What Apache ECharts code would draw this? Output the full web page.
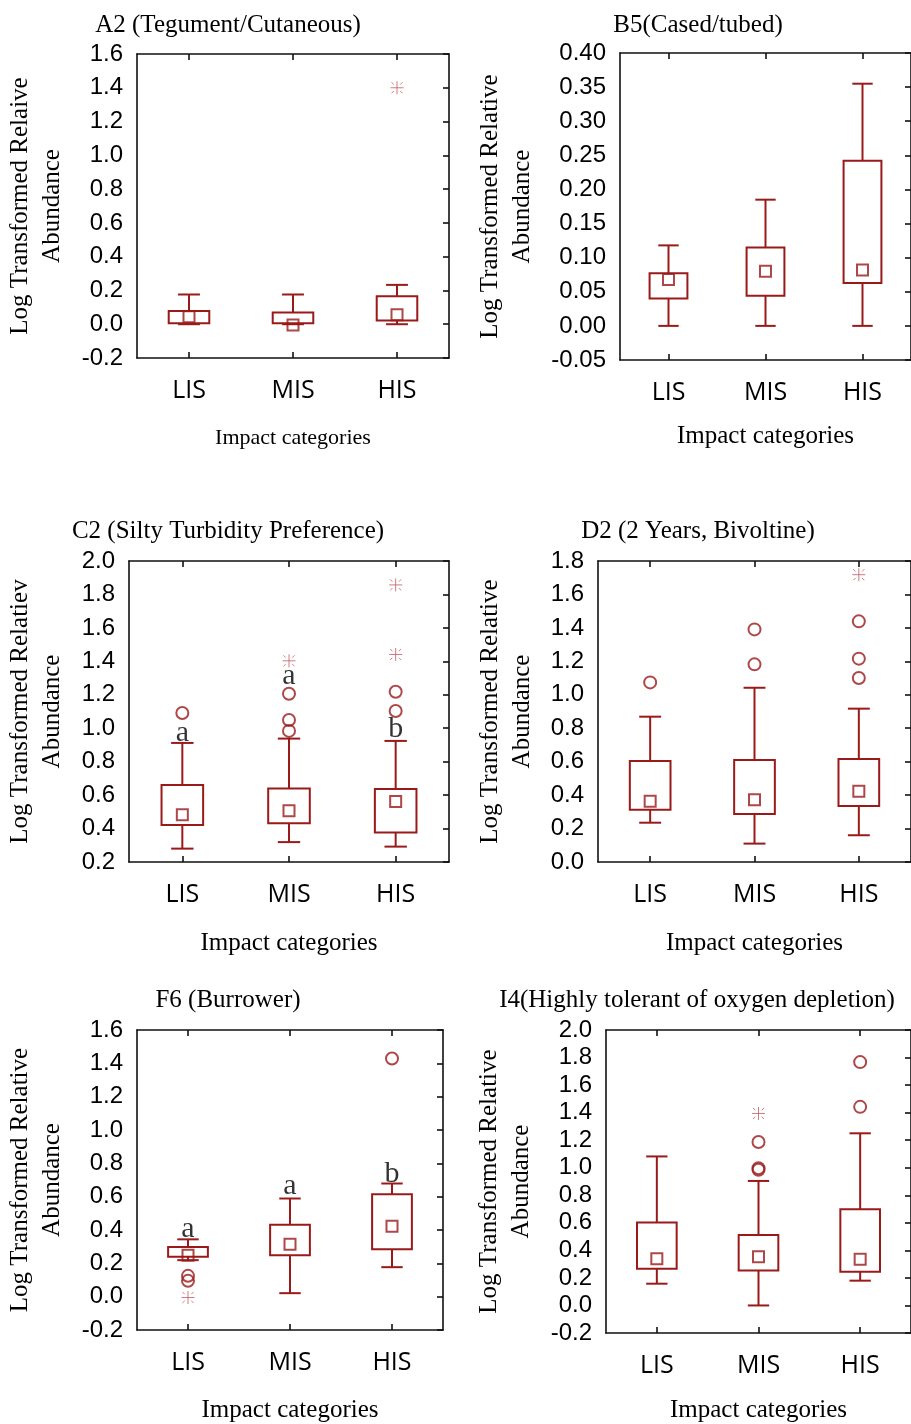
<!DOCTYPE html>
<html>
<head>
<meta charset="utf-8">
<script src="https://cdn.jsdelivr.net/npm/echarts@6/dist/echarts.min.js"></script>
<style>
html,body{margin:0;padding:0;background:#fff;}
#chart{width:911px;height:1424px;}
</style>
</head>
<body>
<div id="chart"></div>
<script>
// ---------- data ----------
const CATEGORIES = ['LIS', 'MIS', 'HIS'];
// stats per category: [whisker low, Q1, median, Q3, whisker high]
const a2Stats = [[0.0, 0.006, 0.044, 0.079, 0.176], [0.0, 0.006, -0.005, 0.069, 0.176], [0.0, 0.022, 0.056, 0.166, 0.233]];
const a2Outliers = [];
const a2Extremes = [[2, 1.40]];
const a2Letters = [];

const b5Stats = [[0.0, 0.040, 0.068, 0.077, 0.118], [0.0, 0.044, 0.080, 0.115, 0.185], [0.0, 0.063, 0.082, 0.242, 0.355]];
const b5Outliers = [];
const b5Extremes = [];
const b5Letters = [];

const c2Stats = [[0.280, 0.421, 0.483, 0.660, 0.912], [0.319, 0.431, 0.506, 0.640, 0.938], [0.292, 0.377, 0.562, 0.636, 0.924]];
const c2Outliers = [[0, 1.091], [1, 1.206], [1, 1.049], [1, 0.984], [2, 1.218], [2, 1.103]];
const c2Extremes = [[1, 1.403], [2, 1.857], [2, 1.441]];
const c2Letters = [[0, 0.914, 'a'], [1, 1.252, 'a'], [2, 0.94, 'b']];

const d2Stats = [[0.235, 0.313, 0.363, 0.604, 0.869], [0.110, 0.287, 0.373, 0.610, 1.042], [0.160, 0.335, 0.423, 0.616, 0.917]];
const d2Outliers = [[0, 1.074], [1, 1.391], [1, 1.182], [2, 1.439], [2, 1.216], [2, 1.100]];
const d2Extremes = [[2, 1.718]];
const d2Letters = [];

const f6Stats = [[0.219, 0.239, 0.249, 0.298, 0.344], [0.021, 0.249, 0.314, 0.432, 0.589], [0.177, 0.284, 0.422, 0.615, 0.679]];
const f6Outliers = [[0, 0.125], [0, 0.095], [2, 1.429]];
const f6Extremes = [[0, -0.005]];
const f6Letters = [[0, 0.348, 'a'], [1, 0.607, 'a'], [2, 0.679, 'b']];

const i4Stats = [[0.158, 0.266, 0.339, 0.603, 1.082], [0.0, 0.254, 0.353, 0.512, 0.904], [0.180, 0.245, 0.336, 0.699, 1.250]];
const i4Outliers = [[1, 1.187], [1, 0.997], [1, 0.985], [2, 1.767], [2, 1.442]];
const i4Extremes = [[1, 1.394]];
const i4Letters = [];

const TITLES = ['A2 (Tegument/Cutaneous)', 'B5(Cased/tubed)', 'C2 (Silty Turbidity Preference)', 'D2 (2 Years, Bivoltine)', 'F6 (Burrower)', 'I4(Highly tolerant of oxygen depletion)'];
const Y_NAMES = ['Log Transformed Relaive\nAbundance', 'Log Transformed Relative\nAbundance', 'Log Transformed Relatiev\nAbundance', 'Log Transformed Relative\nAbundance', 'Log Transformed Relative\nAbundance', 'Log Transformed Relative\nAbundance'];
const X_NAME = 'Impact categories';
const Y_MIN = [-0.2, -0.05, 0.2, 0.0, -0.2, -0.2];
const Y_MAX = [1.6, 0.40, 2.0, 1.8, 1.6, 2.0];
const Y_STEP = [0.2, 0.05, 0.2, 0.2, 0.2, 0.2];
const Y_DEC = [1, 2, 1, 1, 1, 1];

// ---------- layout / style ----------
const BOX_COLOR = '#9a1a1a';
const EXT_COLOR = '#c25a62';
const layout = [
  {grid: {left: 137, top: 54, width: 312, height: 304}, tx: 228, ty: 25, nameGap: 69, xGap: 69, xSize: 22},
  {grid: {left: 620, top: 53, width: 298, height: 307}, tx: 698, ty: 25, nameGap: 82, xGap: 64, xSize: 25},
  {grid: {left: 129, top: 561, width: 320, height: 301}, tx: 228, ty: 531, nameGap: 61, xGap: 69, xSize: 25},
  {grid: {left: 598, top: 561, width: 320, height: 301}, tx: 698, ty: 531, nameGap: 60, xGap: 69, xSize: 25},
  {grid: {left: 137, top: 1030, width: 306, height: 301}, tx: 228, ty: 1000, nameGap: 69, xGap: 68, xSize: 25},
  {grid: {left: 606, top: 1030, width: 312, height: 305}, tx: 697, ty: 1000, nameGap: 69, xGap: 65, xSize: 25}
];
const panelData = [
  [a2Stats, a2Outliers, a2Extremes, a2Letters],
  [b5Stats, b5Outliers, b5Extremes, b5Letters],
  [c2Stats, c2Outliers, c2Extremes, c2Letters],
  [d2Stats, d2Outliers, d2Extremes, d2Letters],
  [f6Stats, f6Outliers, f6Extremes, f6Letters],
  [i4Stats, i4Outliers, i4Extremes, i4Letters]
];

const ASTERISK = 'path://M10,0L10,20M0,10L20,10M1.5,1.5L5,5M18.5,1.5L15,5M1.5,18.5L5,15M18.5,18.5L15,15';
const SERIF = '"Liberation Serif", "Times New Roman", serif';
const SANS = '"Liberation Sans", Arial, sans-serif';
const CAT_FONT = '"Open Sans", "Noto Sans", sans-serif';

function renderBox(params, api) {
  const x = api.value(0);
  const lo = api.coord([x, api.value(1)]);
  const q1 = api.coord([x, api.value(2)]);
  const q3 = api.coord([x, api.value(4)]);
  const hi = api.coord([x, api.value(5)]);
  const band = api.size([1, 0])[0];
  const bw = band * 0.39, cw = band * 0.21;
  const cx = lo[0];
  const st = {stroke: BOX_COLOR, lineWidth: 2, fill: 'none'};
  return {
    type: 'group',
    children: [
      {type: 'line', shape: {x1: cx, y1: q1[1], x2: cx, y2: lo[1]}, style: st},
      {type: 'line', shape: {x1: cx - cw / 2, y1: lo[1], x2: cx + cw / 2, y2: lo[1]}, style: st},
      {type: 'line', shape: {x1: cx, y1: q3[1], x2: cx, y2: hi[1]}, style: st},
      {type: 'line', shape: {x1: cx - cw / 2, y1: hi[1], x2: cx + cw / 2, y2: hi[1]}, style: st},
      {type: 'rect', shape: {x: cx - bw / 2, y: q3[1], width: bw, height: q1[1] - q3[1]}, style: st}
    ]
  };
}

const option = {
  animation: false,
  backgroundColor: '#fff',
  grid: [], xAxis: [], yAxis: [], series: [], graphic: []
};

const axisLine = {show: true, onZero: false, lineStyle: {color: '#111', width: 1.6}};
const tickStyle = {color: '#111', width: 1.6};

layout.forEach((L, i) => {
  option.grid.push(Object.assign({}, L.grid));
  option.xAxis.push({
    gridIndex: i, type: 'category', data: CATEGORIES, position: 'bottom',
    axisLine: axisLine,
    axisTick: {show: true, inside: true, alignWithLabel: true, length: 6, lineStyle: tickStyle},
    axisLabel: {show: true, margin: 20, fontFamily: CAT_FONT, fontSize: 25, color: '#000'},
    splitLine: {show: false},
    name: X_NAME, nameLocation: 'middle', nameGap: L.xGap,
    nameTextStyle: {fontFamily: SERIF, fontSize: L.xSize, color: '#000', verticalAlign: 'top'}
  });
  option.xAxis.push({
    gridIndex: i, type: 'category', data: CATEGORIES, position: 'top',
    axisLine: axisLine,
    axisTick: {show: true, inside: true, alignWithLabel: true, length: 6, lineStyle: tickStyle},
    axisLabel: {show: false}, splitLine: {show: false}
  });
  option.yAxis.push({
    gridIndex: i, type: 'value', position: 'left',
    min: Y_MIN[i], max: Y_MAX[i], interval: Y_STEP[i],
    axisLine: axisLine, axisTick: {show: false}, splitLine: {show: false},
    axisLabel: {margin: 14, fontFamily: SANS, fontSize: 24, color: '#000',
      formatter: (v) => v.toFixed(Y_DEC[i])},
    name: Y_NAMES[i], nameLocation: 'middle', nameRotate: 90, nameGap: L.nameGap,
    nameTextStyle: {fontFamily: SERIF, fontSize: 25, color: '#000', lineHeight: 32}
  });
  option.yAxis.push({
    gridIndex: i, type: 'value', position: 'right',
    min: Y_MIN[i], max: Y_MAX[i], interval: Y_STEP[i],
    axisLine: axisLine,
    axisTick: {show: true, inside: true, length: 6, lineStyle: tickStyle},
    axisLabel: {show: false}, splitLine: {show: false}
  });

  const [stats, outl, ext, letters] = panelData[i];
  const xi = 2 * i, yi = 2 * i;
  option.series.push({
    type: 'custom', xAxisIndex: xi, yAxisIndex: yi,
    renderItem: renderBox,
    encode: {x: 0, y: [1, 2, 3, 4, 5]},
    data: stats.map((s, k) => [k].concat(s)),
    z: 3
  });
  option.series.push({
    type: 'scatter', xAxisIndex: xi, yAxisIndex: yi,
    symbol: 'rect', symbolSize: 11,
    itemStyle: {color: 'none', borderColor: BOX_COLOR, borderWidth: 2},
    data: stats.map((s, k) => [k, s[2]]), z: 4
  });
  if (outl.length) option.series.push({
    type: 'scatter', xAxisIndex: xi, yAxisIndex: yi,
    symbol: 'circle', symbolSize: 12,
    itemStyle: {color: 'none', borderColor: BOX_COLOR, borderWidth: 2},
    data: outl, z: 4
  });
  if (ext.length) option.series.push({
    type: 'scatter', xAxisIndex: xi, yAxisIndex: yi,
    symbol: ASTERISK, symbolSize: 13,
    itemStyle: {color: 'none', borderColor: EXT_COLOR, borderWidth: 1},
    data: ext, z: 4
  });
  if (letters.length) option.series.push({
    type: 'scatter', xAxisIndex: xi, yAxisIndex: yi,
    symbolSize: 1, itemStyle: {color: 'rgba(0,0,0,0)'},
    label: {show: true, position: 'top', distance: -6, formatter: (p) => p.data[2],
      fontFamily: SERIF, fontSize: 30, color: '#000'},
    data: letters, z: 5
  });
  option.graphic.push({
    type: 'text', x: L.tx, y: L.ty,
    style: {text: TITLES[i], font: '25px ' + SERIF, fill: '#000', align: 'center', verticalAlign: 'middle'}
  });
});

const chart = echarts.init(document.getElementById('chart'), null, {renderer: 'canvas'});
chart.setOption(option);
</script>
</body>
</html>
